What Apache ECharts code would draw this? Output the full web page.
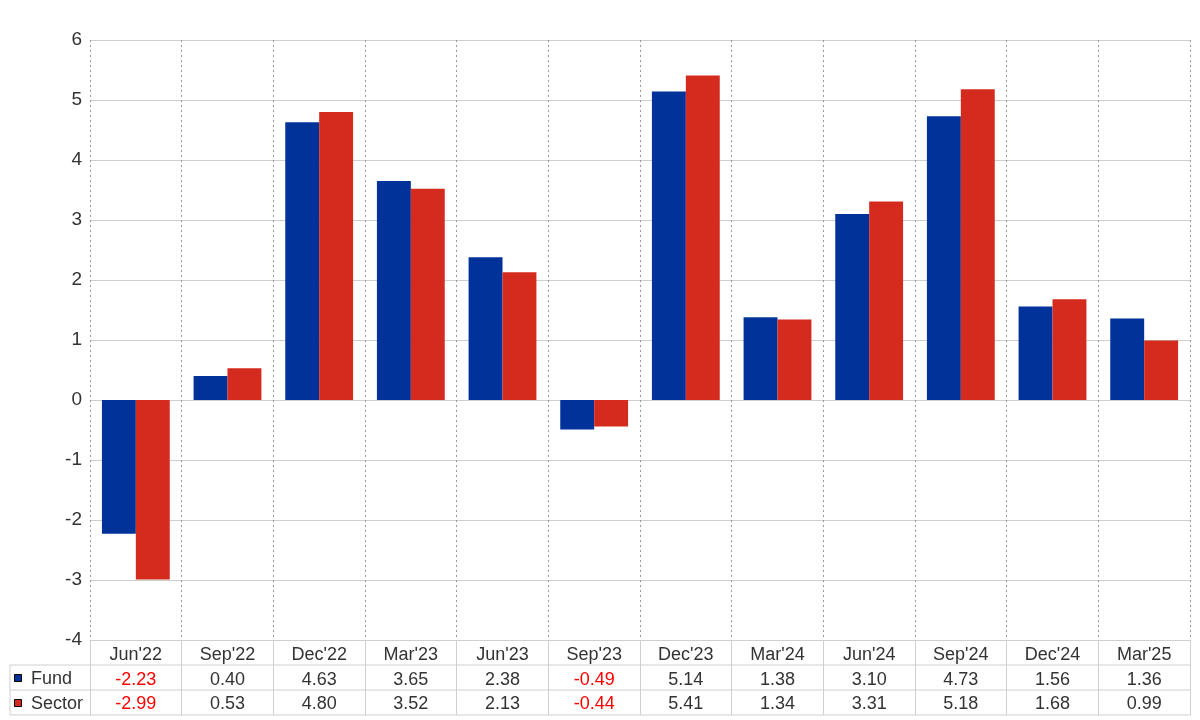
<!DOCTYPE html>
<html>
<head>
<meta charset="utf-8">
<script src="https://cdn.jsdelivr.net/npm/echarts@6/dist/echarts.min.js"></script>
<style>html,body{margin:0;padding:0;background:#fff}#c{width:1200px;height:720px}</style>
</head>
<body>
<div id="c"></div>
<script>
var categories = ["Jun'22","Sep'22","Dec'22","Mar'23","Jun'23","Sep'23","Dec'23","Mar'24","Jun'24","Sep'24","Dec'24","Mar'25"];
var fund = [-2.23, 0.40, 4.63, 3.65, 2.38, -0.49, 5.14, 1.38, 3.10, 4.73, 1.56, 1.36];
var sector = [-2.99, 0.53, 4.80, 3.52, 2.13, -0.44, 5.41, 1.34, 3.31, 5.18, 1.68, 0.99];
var seriesNames = ['Fund', 'Sector'];
var yTicks = {min: -4, max: 6, interval: 1};

var BLUE = '#003299', RED = '#D52B1F';
var FONT = 'Liberation Sans, Arial, sans-serif';
var GL = 90, GR = 10, GT = 40, GB = 80;
var W = 1200, H = 720;
var rowY = [665, 690, 715];

function fmt(v) {
  var s = v.toFixed(2);
  return v < 0 ? '{n|' + s + '}' : '{p|' + s + '}';
}

var chart = echarts.init(document.getElementById('c'), null, {renderer: 'canvas'});
var graphics = [];
rowY.forEach(function (y) {
  graphics.push({type: 'line', shape: {x1: 10, y1: y, x2: W - GR, y2: y}, style: {stroke: '#cfcfcf', lineWidth: 1}, silent: true});
});
graphics.push({type: 'line', shape: {x1: 10, y1: rowY[0], x2: 10, y2: rowY[2]}, style: {stroke: '#cfcfcf', lineWidth: 1}, silent: true});
var colors = [BLUE, RED];
seriesNames.forEach(function (n, i) {
  var cy = (rowY[i] + rowY[i + 1]) / 2 + 1;
  graphics.push({type: 'rect', shape: {x: 14.5, y: cy - 4, width: 7, height: 7}, style: {fill: colors[i], stroke: '#000', lineWidth: 1}, silent: true});
  graphics.push({type: 'text', x: 31, y: cy + 0.5, style: {text: n, font: '18px ' + FONT, fill: '#333', textVerticalAlign: 'middle', verticalAlign: 'middle'}, silent: true});
});

chart.setOption({
  animation: false,
  backgroundColor: '#fff',
  grid: {left: GL, right: GR, top: GT, bottom: GB, containLabel: false},
  xAxis: {
    type: 'category',
    data: categories,
    boundaryGap: true,
    axisLine: {show: true, onZero: false, lineStyle: {color: '#cfcfcf', width: 1}},
    axisTick: {show: true, length: 75, lineStyle: {color: '#cfcfcf', width: 1}},
    splitLine: {show: true, lineStyle: {color: '#999', type: [2, 3], width: 1}},
    axisLabel: {
      interval: 0,
      margin: 3,
      hideOverlap: false,
      formatter: function (value, idx) {
        return '{c|' + value + '}\n' + fmt(fund[idx]) + '\n' + fmt(sector[idx]);
      },
      rich: {
        c: {fontSize: 18, fontFamily: FONT, color: '#333', lineHeight: 24.5},
        p: {fontSize: 18, fontFamily: FONT, color: '#333', lineHeight: 24.5},
        n: {fontSize: 18, fontFamily: FONT, color: '#ff0000', lineHeight: 24.5}
      }
    }
  },
  yAxis: {
    type: 'value',
    min: yTicks.min, max: yTicks.max, interval: yTicks.interval,
    axisLine: {show: false},
    axisTick: {show: false},
    splitLine: {show: true, lineStyle: {color: '#cfcfcf', width: 1}},
    axisLabel: {margin: 8, fontSize: 19, fontFamily: FONT, color: '#333', padding: [3, 0, 0, 0]}
  },
  series: [
    {name: seriesNames[0], type: 'bar', data: fund, barGap: '0%', barCategoryGap: '26%', itemStyle: {color: BLUE}},
    {name: seriesNames[1], type: 'bar', data: sector, barGap: '0%', barCategoryGap: '26%', itemStyle: {color: RED}}
  ],
  graphic: graphics
});
</script>
</body>
</html>
